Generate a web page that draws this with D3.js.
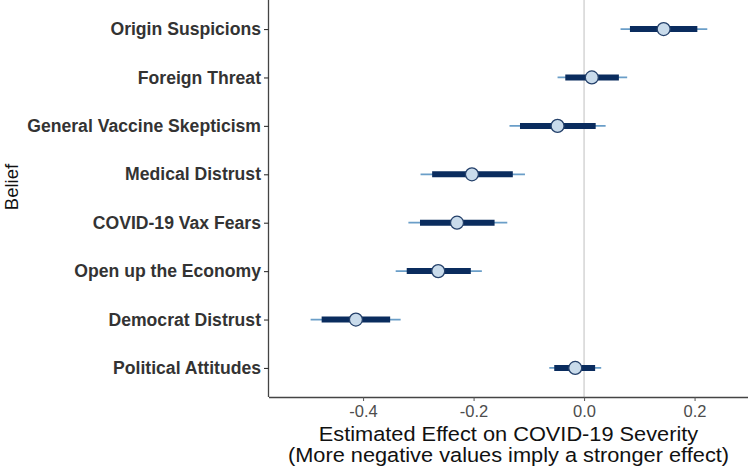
<!DOCTYPE html>
<html>
<head>
<meta charset="utf-8">
<script src="https://cdn.jsdelivr.net/npm/d3@7"></script>
<style>
  body { margin: 0; background: #fff; }
  svg { display: block; }
  text { font-family: "Liberation Sans", Arial, Helvetica, sans-serif; }
</style>
</head>
<body>
<svg id="chart" width="750" height="472"></svg>
<script>
const categories = ["Origin Suspicions", "Foreign Threat", "General Vaccine Skepticism", "Medical Distrust",
  "COVID-19 Vax Fears", "Open up the Economy", "Democrat Distrust", "Political Attitudes"];
const estimates = [0.144, 0.014, -0.048, -0.203, -0.230, -0.264, -0.413, -0.016];
const innerLow  = [0.083, -0.034, -0.116, -0.275, -0.297, -0.321, -0.475, -0.054];
const innerHigh = [0.205, 0.063, 0.021, -0.129, -0.162, -0.205, -0.351, 0.020];
const outerLow  = [0.066, -0.048, -0.135, -0.296, -0.318, -0.341, -0.495, -0.063];
const outerHigh = [0.223, 0.078, 0.039, -0.107, -0.139, -0.185, -0.332, 0.031];
const xTicks = [-0.4, -0.2, 0.0, 0.2];
const xTickLabels = ["-0.4", "-0.2", "0.0", "0.2"];
const xTitleLines = ["Estimated Effect on COVID-19 Severity", "(More negative values imply a stronger effect)"];

(function () {
const rows = categories.map((c, i) => ({
  cat: c, est: estimates[i], lo: innerLow[i], hi: innerHigh[i], lo2: outerLow[i], hi2: outerHigh[i]
}));

const svg = d3.select("#chart");
const pLeft = 269, pRight = 748, pTop = 0, pBottom = 397;

const x = d3.scaleLinear().domain([-0.5703, 0.2967]).range([pLeft, pRight]);
const y = d3.scalePoint().domain(categories).range([pTop, pBottom]).padding(0.6);

svg.append("line")
  .attr("x1", x(0)).attr("x2", x(0)).attr("y1", pTop).attr("y2", pBottom)
  .attr("stroke", "#dcdcdc").attr("stroke-width", 1.8);

const g = svg.append("g");
g.selectAll("line.outer").data(rows).join("line").attr("class", "outer")
  .attr("x1", d => x(d.lo2)).attr("x2", d => x(d.hi2))
  .attr("y1", d => y(d.cat)).attr("y2", d => y(d.cat))
  .attr("stroke", "#6a9ec8").attr("stroke-width", 1.8);
g.selectAll("line.inner").data(rows).join("line").attr("class", "inner")
  .attr("x1", d => x(d.lo)).attr("x2", d => x(d.hi))
  .attr("y1", d => y(d.cat)).attr("y2", d => y(d.cat))
  .attr("stroke", "#0a2c5e").attr("stroke-width", 6);
g.selectAll("circle").data(rows).join("circle")
  .attr("cx", d => x(d.est)).attr("cy", d => y(d.cat)).attr("r", 6.5)
  .attr("fill", "#c9dbeb").attr("stroke", "#24406a").attr("stroke-width", 1.3);

const xAxis = d3.axisBottom(x).tickValues(xTicks).tickFormat((d, i) => xTickLabels[i]).tickSize(4).tickPadding(4);
const xg = svg.append("g").attr("transform", `translate(0,${pBottom})`).call(xAxis);
xg.select(".domain").attr("stroke", "#444").attr("stroke-width", 1.3)
  .attr("d", `M${pLeft},0.5H${pRight}`);
xg.selectAll(".tick line").attr("stroke", "#555").attr("stroke-width", 1);
xg.selectAll(".tick text").attr("fill", "#4d4d4d").style("font-size", "16.5px");

const yAxis = d3.axisLeft(y).tickSize(5).tickPadding(3);
const yg = svg.append("g").attr("transform", `translate(${pLeft},0)`).call(yAxis);
yg.select(".domain").attr("stroke", "#444").attr("stroke-width", 1.3)
  .attr("d", `M-0.5,${pTop}V${pBottom}`);
yg.selectAll(".tick line").attr("stroke", "#333").attr("stroke-width", 1.1);
yg.selectAll(".tick text").attr("fill", "#333").style("font-size", "17.6px").style("font-weight", "bold");

svg.selectAll("text.xtitle").data(xTitleLines).join("text").attr("class", "xtitle")
  .attr("transform", (d, i) => `translate(${(pLeft + pRight) / 2},${440.5 + i * 21.9}) scale(1.117,1)`)
  .attr("text-anchor", "middle").attr("fill", "#111").style("font-size", "19.5px")
  .text(d => d);

svg.append("text").attr("transform", "translate(17.5,187) rotate(-90)")
  .attr("text-anchor", "middle").attr("fill", "#111").style("font-size", "18.5px").text("Belief");
})();
</script>
</body>
</html>
